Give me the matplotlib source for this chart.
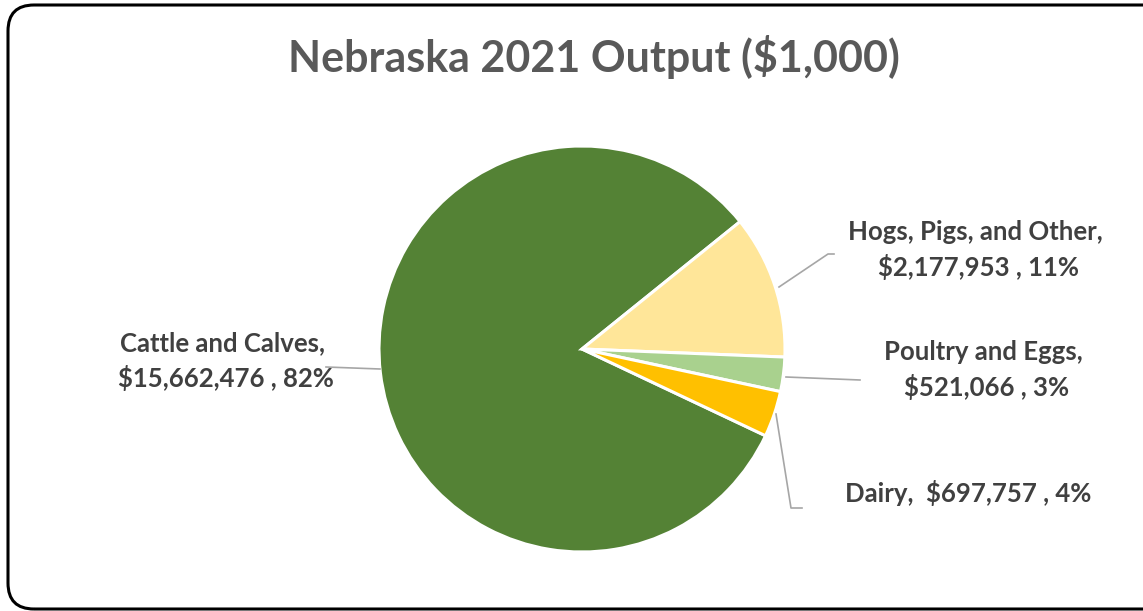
import matplotlib
matplotlib.use("Agg")
import matplotlib.pyplot as plt
from matplotlib.patches import FancyBboxPatch

plt.rcParams['font.family'] = ['Lato', 'DejaVu Sans']

# livestock output, $1,000
categories = ['Cattle and Calves', 'Hogs, Pigs, and Other', 'Poultry and Eggs', 'Dairy']
values = [15662476, 2177953, 521066, 697757]
percents = [82, 11, 3, 4]
colors = ['#548235', '#FFE699', '#A9D18E', '#FFC000']

W, H = 1143, 611
fig = plt.figure(figsize=(W / 100, H / 100), dpi=100)
ax = fig.add_axes([0, 0, 1, 1])

cx, cy, r = 582, H - 349, 203
wedges, _ = ax.pie(values, colors=colors, startangle=334.7, counterclock=False,
                   center=(cx, cy), radius=r, frame=True,
                   wedgeprops=dict(edgecolor='white', linewidth=2.2))
ax.set_xlim(0, W)
ax.set_ylim(0, H)
ax.axis('off')

# chart border
box = FancyBboxPatch((8, 2), 1190, 604, boxstyle='round,pad=0,rounding_size=26',
                     fill=False, edgecolor='black', linewidth=2.2, clip_on=False)
ax.add_patch(box)

ax.text(594, H - 57, 'Nebraska 2021 Output ($1,000)', ha='center', va='center',
        fontsize=31, fontweight='bold', color='#595959')


def lbl(i):
    return '{}, \n${:,} , {}%'.format(categories[i], values[i], percents[i])


txt = dict(ha='center', va='center', fontsize=18.5, fontweight='bold', color='#404040',
           linespacing=1.45)
lc = dict(color='#A6A6A6', linewidth=1.2)

# leader lines
ax.plot([380, 326], [H - 369, H - 367], **lc)
ax.plot([779, 828, 834], [H - 287, H - 254, H - 254], **lc)
ax.plot([786, 860], [H - 377, H - 380], **lc)
ax.plot([776, 791, 802], [H - 414, H - 508, H - 508], **lc)

ax.text(226, H - 361, lbl(0), **txt)
ax.text(979, H - 250, lbl(1), **txt)
ax.text(987, H - 370, lbl(2), **txt)
ax.text(968, H - 493, '{},  ${:,} , {}%'.format(categories[3], values[3], percents[3]), **txt)

fig.savefig('out.png', dpi=100, facecolor='white')
